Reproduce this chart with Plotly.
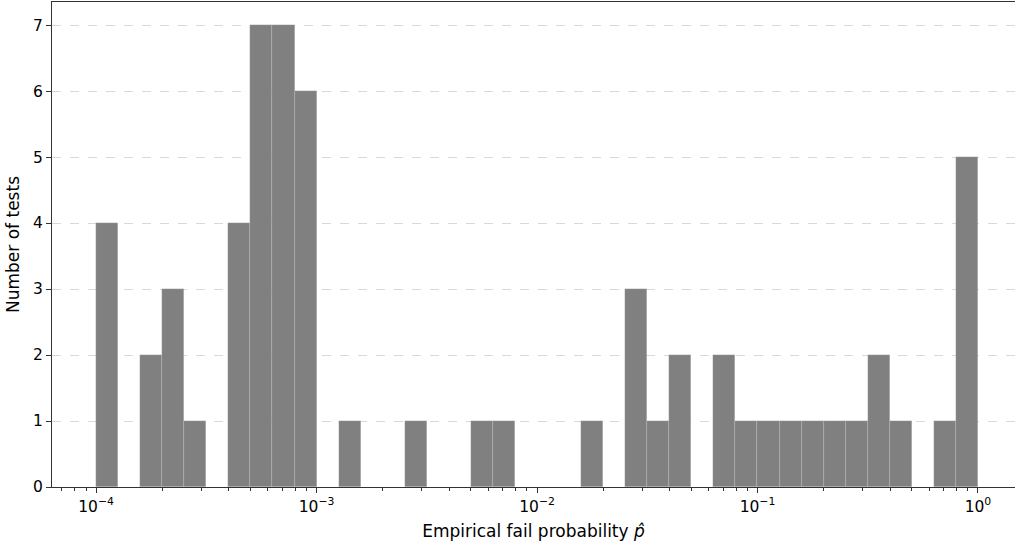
import numpy as np
import plotly.graph_objects as go

# Histogram: 40 log-spaced bins from 1e-4 to 1e0 (10 per decade)
log_bin_start = -4.0
log_bin_stop = 0.0
n_bins = 40
counts = [4, 0, 2, 3, 1, 0, 4, 7, 7, 6,
          0, 1, 0, 0, 1, 0, 0, 1, 1, 0,
          0, 0, 1, 0, 3, 1, 2, 0, 2, 1,
          1, 1, 1, 1, 1, 2, 1, 0, 1, 5]
y_ticks = [0, 1, 2, 3, 4, 5, 6, 7]
x_major_exponents = [-4, -3, -2, -1, 0]
x_major_labels = ["10<sup>−4</sup>", "10<sup>−3</sup>", "10<sup>−2</sup>", "10<sup>−1</sup>", "10<sup>0</sup>"]

edges = np.linspace(log_bin_start, log_bin_stop, n_bins + 1)
centers = (edges[:-1] + edges[1:]) / 2
width = edges[1] - edges[0]

minor_vals = [np.log10(m * 10.0 ** e) for e in range(-5, 1) for m in range(2, 10)]

fig = go.Figure(go.Bar(
    x=centers, y=counts, width=width,
    marker=dict(color="#808080", line=dict(color="rgba(255,255,255,0.25)", width=0.5)),
    hoverinfo="skip",
))

font = dict(family="DejaVu Sans", size=14, color="black")
tickfont = dict(family="DejaVu Sans", size=15.5, color="black")
fig.update_layout(
    width=1015, height=545,
    margin=dict(l=52, r=0, t=2, b=58),
    paper_bgcolor="white", plot_bgcolor="white",
    font=font, showlegend=False, bargap=0,
    xaxis=dict(
        range=[-4.2, 0.168], automargin=False,
        tickmode="array", tickvals=x_major_exponents, ticktext=x_major_labels,
        tickfont=tickfont,
        ticks="outside", ticklen=5, tickwidth=1, tickcolor="#333",
        showline=True, linecolor="#333", linewidth=1.2, mirror=True,
        showgrid=False, zeroline=False,
        minor=dict(tickmode="array", tickvals=minor_vals, ticks="outside", ticklen=3, tickwidth=0.8, tickcolor="#333", showgrid=False),
        title=dict(text="Empirical fail probability <i>p̂</i>", standoff=10),
    ),
    yaxis=dict(
        range=[0, 7.35], automargin=False,
        tickmode="array", tickvals=y_ticks, tickfont=tickfont,
        ticks="outside", ticklen=5, tickwidth=1, tickcolor="#333",
        showline=True, linecolor="#333", linewidth=1.2,
        showgrid=True, gridcolor="#d9d9d9", griddash="dash", gridwidth=1,
        zeroline=False,
        title=dict(text="Number of tests", standoff=8),
    ),
)

fig.write_html("out.html", config={"displayModeBar": False},
               post_script="document.body.style.margin='0';document.body.style.overflow='hidden';")
